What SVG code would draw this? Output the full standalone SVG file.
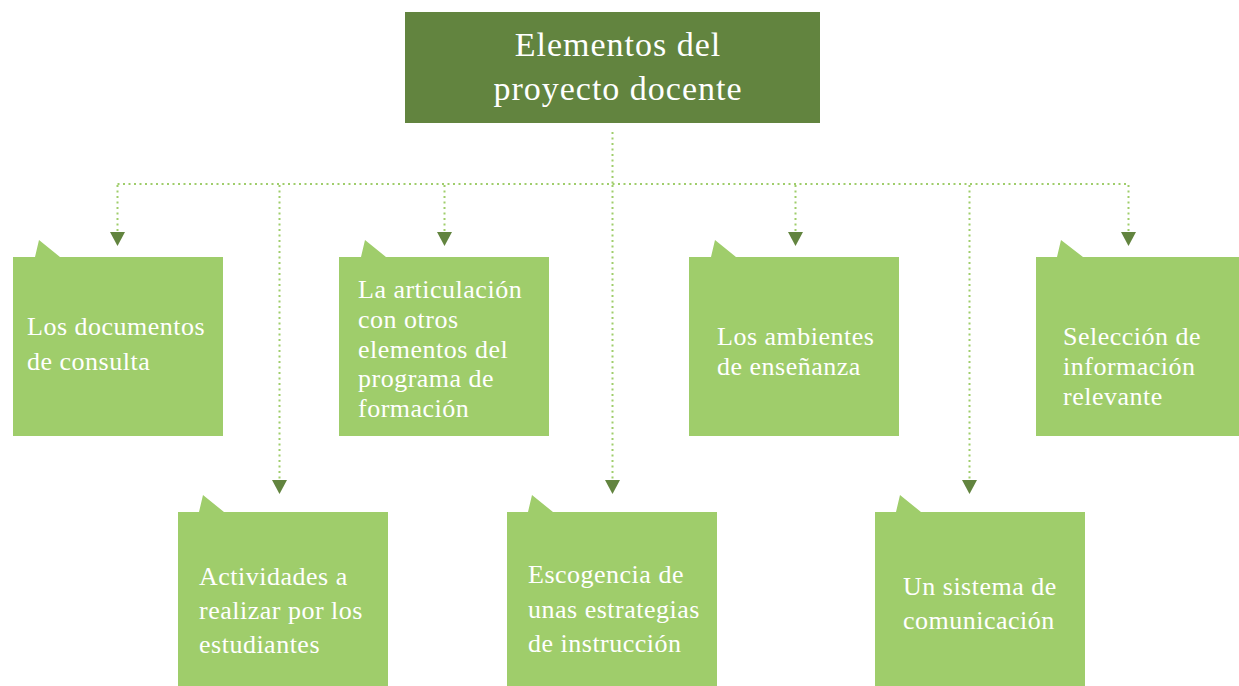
<svg xmlns="http://www.w3.org/2000/svg" width="1239" height="686" viewBox="0 0 1239 686">
  <defs>
    <style>
      .box { fill: #9FCD6B; }
      .root { fill: #62843F; }
      .lbl { font-family: "Liberation Serif", "Times New Roman", serif; font-size: 26px; letter-spacing: 0.5px; fill: #FFFFFF; }
      .title { font-family: "Liberation Serif", "Times New Roman", serif; font-size: 34px; letter-spacing: 1px; fill: #FFFFFF; text-anchor: middle; }
      .dot { fill: none; stroke: #9FCD6B; stroke-width: 2; stroke-dasharray: 2 3.5; }
      .arr { fill: none; stroke: #9FCD6B; stroke-width: 2; stroke-dasharray: 2 3.5; marker-end: url(#tri); }
    </style>
    <marker id="tri" markerUnits="userSpaceOnUse" markerWidth="14" markerHeight="15" viewBox="0 0 14 15" refX="0" refY="7.5" orient="auto">
      <path d="M0,0 L14,7.5 L0,15 Z" fill="#62843F"/>
    </marker>
  </defs>
  <rect width="1239" height="686" fill="#FFFFFF"/>

  <g id="connectors">
    <path class="dot" d="M612.5,132 V184"/>
    <path class="dot" d="M117.5,184 H1128.5"/>
    <path class="arr" d="M117.5,185 V232"/>
    <path class="arr" d="M279.5,185 V480"/>
    <path class="arr" d="M444.5,185 V232"/>
    <path class="arr" d="M612.5,185 V480"/>
    <path class="arr" d="M795.5,185 V232"/>
    <path class="arr" d="M969.5,185 V480"/>
    <path class="arr" d="M1128.5,185 V232"/>
  </g>

  <g id="root">
    <rect class="root" x="405" y="12" width="415" height="111"/>
    <text class="title" x="618" y="56">Elementos del</text>
    <text class="title" x="618" y="100">proyecto docente</text>
  </g>

  <g id="n1">
    <path class="box" d="M13,257 H35 L39,240 L60,257 H223 V436 H13 Z"/>
    <text class="lbl" x="27" y="335">Los documentos</text>
    <text class="lbl" x="27" y="370">de consulta</text>
  </g>

  <g id="n2">
    <path class="box" d="M178,512 H199 L203,495 L224,512 H388 V686 H178 Z"/>
    <text class="lbl" x="199" y="585">Actividades a</text>
    <text class="lbl" x="199" y="619">realizar por los</text>
    <text class="lbl" x="199" y="653">estudiantes</text>
  </g>

  <g id="n3">
    <path class="box" d="M339,257 H361 L365,240 L386,257 H549 V436 H339 Z"/>
    <text class="lbl" x="358" y="298">La articulación</text>
    <text class="lbl" x="358" y="328">con otros</text>
    <text class="lbl" x="358" y="357.5">elementos del</text>
    <text class="lbl" x="358" y="387">programa de</text>
    <text class="lbl" x="358" y="417">formación</text>
  </g>

  <g id="n4">
    <path class="box" d="M507,512 H528 L532,495 L553,512 H717 V686 H507 Z"/>
    <text class="lbl" x="528" y="583">Escogencia de</text>
    <text class="lbl" x="528" y="618">unas estrategias</text>
    <text class="lbl" x="528" y="652">de instrucción</text>
  </g>

  <g id="n5">
    <path class="box" d="M689,257 H711 L715,240 L736,257 H899 V436 H689 Z"/>
    <text class="lbl" x="717" y="345">Los ambientes</text>
    <text class="lbl" x="717" y="375">de enseñanza</text>
  </g>

  <g id="n6">
    <path class="box" d="M875,512 H896 L900,495 L921,512 H1085 V686 H875 Z"/>
    <text class="lbl" x="903" y="595">Un sistema de</text>
    <text class="lbl" x="903" y="629">comunicación</text>
  </g>

  <g id="n7">
    <path class="box" d="M1036,257 H1057 L1061,240 L1083,257 H1246 V436 H1036 Z"/>
    <text class="lbl" x="1063" y="345">Selección de</text>
    <text class="lbl" x="1063" y="375">información</text>
    <text class="lbl" x="1063" y="405">relevante</text>
  </g>
</svg>
